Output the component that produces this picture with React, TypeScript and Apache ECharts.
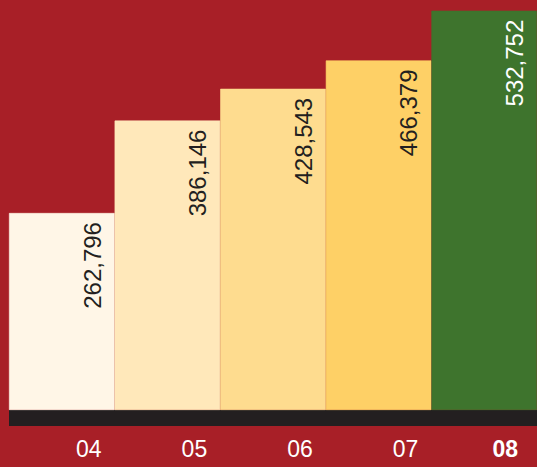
import React, { useEffect, useRef } from "react";
import * as echarts from "echarts";

const categories = ["04", "05", "06", "07", "08"];
const values = [262796, 386146, 428543, 466379, 532752];
const barColors = ["#FFF6E7", "#FFE8BA", "#FEDC8F", "#FED066", "#3E742D"];
const labelColors = ["#231F20", "#231F20", "#231F20", "#231F20", "#FFFFFF"];
const yMin = -10673;
const yMax = 547000;

export default function App() {
  const ref = useRef<HTMLDivElement>(null);
  useEffect(() => {
    if (!ref.current) return;
    const chart = echarts.init(ref.current, null, { renderer: "svg" });
    chart.setOption({
      animation: false,
      backgroundColor: "#A81F27",
      textStyle: { fontFamily: "Liberation Sans, Arial, sans-serif" },
      grid: { left: 9, right: 0, top: 0, bottom: 49 },
      xAxis: {
        type: "category",
        data: categories,
        axisLine: {
          show: true,
          onZero: false,
          lineStyle: { color: "#231F20", width: 16, cap: "butt" },
        },
        axisTick: { show: false },
        axisLabel: {
          margin: 19,
          formatter: (v: string, i: number) =>
            i === categories.length - 1 ? `{b|${v}}` : `{a|${v}}`,
          rich: {
            a: {
              color: "#FFFFFF",
              fontSize: 23,
              fontFamily: "Liberation Sans, Arial, sans-serif",
              padding: [0, 0, 0, 54],
            },
            b: {
              color: "#FFFFFF",
              fontSize: 23,
              fontWeight: "bold",
              fontFamily: "Liberation Sans, Arial, sans-serif",
              padding: [0, 0, 0, 42],
            },
          },
        },
      },
      yAxis: {
        type: "value",
        min: yMin,
        max: yMax,
        show: false,
        splitLine: { show: false },
      },
      series: [
        {
          type: "bar",
          barCategoryGap: "0%",
          z: 3,
          data: values.map((v, i) => ({
            value: v,
            itemStyle: {
              color: barColors[i],
              borderColor: barColors[i],
              borderWidth: 0.6,
            },
            label: { color: labelColors[i] },
          })),
          label: {
            show: true,
            position: ["90%", 9],
            rotate: 90,
            align: "right",
            verticalAlign: "bottom",
            fontSize: 24,
            fontFamily: "Liberation Sans, Arial, sans-serif",
            formatter: (p: any) => Number(p.value).toLocaleString("en-US"),
          },
        },
      ],
    });
    return () => chart.dispose();
  }, []);
  return (
    <div
      ref={ref}
      style={{ position: "fixed", left: 0, top: 0, width: 537, height: 467 }}
    />
  );
}
